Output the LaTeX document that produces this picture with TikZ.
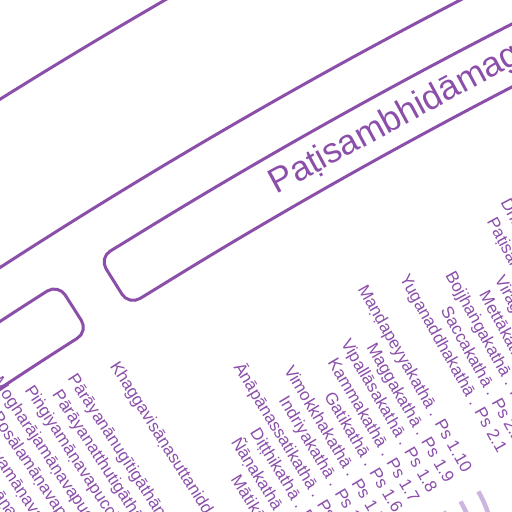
\documentclass[tikz,border=0pt]{standalone}
\usepackage{fontspec}
\setmainfont{Liberation Sans}
\definecolor{canon}{RGB}{139,79,170}
\definecolor{twig}{RGB}{204,182,224}

\begin{document}
\begin{tikzpicture}[x=1pt,y=1pt]
  \tikzstyle{leaf}=[anchor=east,inner sep=0pt,text=canon,text height=13pt,text depth=4pt,font=\fontsize{17}{20}\selectfont]
  \tikzstyle{ring}=[draw=canon,line width=3pt]
  \tikzstyle{band}=[draw=canon,line width=3pt,rounded corners=13pt]
  \tikzstyle{link}=[draw=twig,line width=4.5pt]

  \useasboundingbox (0,0) rectangle (512,512);
  \clip (0,0) rectangle (512,512);

  % all rings share the centre (3000,-4388)
  \begin{scope}[shift={(3000,-4388)}]
    \draw[ring] (125:5661) arc (125:115:5661);
    \draw[ring] (125:5519) arc (125:115:5519);

    \draw[band] (122:5446) -- (122:5474) -- (121.7:5474) arc (121.7:115:5474)
      -- (115:5418) arc (115:121.7:5418) -- (122:5418) -- cycle;
    \draw[band] (122.51:5446) -- (122.51:5474) -- (122.8:5474) arc (122.8:127:5474)
      -- (127:5418) arc (127:122.8:5418) -- (122.51:5418) -- cycle;

    \node[anchor=west,inner sep=0pt,text=canon,text height=26pt,text depth=8pt,
      font=\fontsize{35}{40}\selectfont,rotate=28.4] (patis) at (120.06:5446) {Paṭisambhidāmagga};
  \end{scope}

  \coordinate[xshift=3000pt,yshift=-4388pt] (mahavagga) at (120.78:4900);

  % Yuganaddhavagga
  \foreach \name/\angle/\text in {ps27/117.97/Dhammacakkakathā . Ps 2.7, ps26/118.20/Paṭisambhidākathā . Ps 2.6,
      ps25/118.42/Virāgakathā . Ps 2.5, ps24/118.65/Mettākathā . Ps 2.4, ps23/118.87/Bojjhaṅgakathā . Ps 2.3,
      ps22/119.10/Saccakathā . Ps 2.2, ps21/119.32/Yuganaddhakathā . Ps 2.1}
    \node[leaf,xshift=3000pt,yshift=-4388pt,rotate=\angle-180] (\name) at (\angle:5102) {\text};

  % Mahavagga
  \foreach \name/\angle/\text in {ps110/119.77/Maṇḍapeyyakathā . Ps 1.10, ps19/120.00/Maggakathā . Ps 1.9,
      ps18/120.22/Vipallāsakathā . Ps 1.8, ps17/120.45/Kammakathā . Ps 1.7, ps16/120.67/Gatikathā . Ps 1.6,
      ps15/120.90/Vimokkhakathā . Ps 1.5, ps14/121.12/Indriyakathā . Ps 1.4, ps13/121.35/Ānāpānassatikathā . Ps 1.3,
      ps12/121.57/Diṭṭhikathā . Ps 1.2, ps11/121.80/Ñāṇakathā . Ps 1.1}
  {
    \node[leaf,xshift=3000pt,yshift=-4388pt,rotate=\angle-180] (\name) at (\angle:5102) {\text};
    \coordinate[xshift=3000pt,yshift=-4388pt] (\name-in) at (\angle:5079);
    \draw[link] (\name-in) .. controls +(\angle:-90) and +(120.78:90) .. (mahavagga);
  }
  \node[leaf,xshift=3000pt,yshift=-4388pt,rotate=122.02-180] (ps10) at (122.02:5102) {Mātikā . Ps 1.0};

  % Culaniddesa
  \foreach \name/\angle/\text in {cnd19/122.47/Khaggavisāṇasuttaniddesa . Cnd 19,
      cnd18/122.92/Pārāyanānugītigāthāniddesa . Cnd 18, cnd17/123.15/Pārāyanatthutigāthāniddesa . Cnd 17,
      cnd16/123.37/Piṅgiyamāṇavapucchāniddesa . Cnd 16, cnd15/123.60/Mogharājamāṇavapucchāniddesa . Cnd 15,
      cnd14/123.82/Posālamāṇavapucchāniddesa . Cnd 14, cnd13/124.05/Udayamāṇavapucchāniddesa . Cnd 13,
      cnd12/124.27/Bhadrāvudhamāṇavapucchāniddesa . Cnd 12}
    \node[leaf,xshift=3000pt,yshift=-4388pt,rotate=\angle-180] (\name) at (\angle:5102) {\text};

\end{tikzpicture}
\end{document}
